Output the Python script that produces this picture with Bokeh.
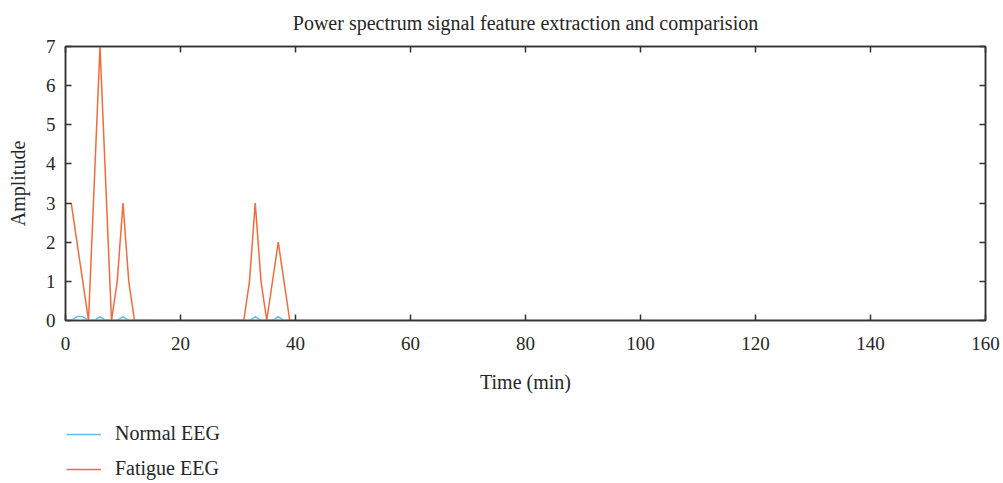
from bokeh.plotting import figure
from bokeh.layouts import column
from bokeh.models import (Range1d, LinearAxis, SingleIntervalTicker, Legend, LegendItem,
                          PrintfTickFormatter)
from bokeh.embed import file_html
from bokeh.resources import INLINE

# Data
normal_x = [1, 2, 3, 4, 5, 6, 7, 9, 10, 11, 32, 33, 34, 36, 37, 38, 39]
normal_y = [0, 0.1, 0.1, 0, 0, 0.1, 0, 0, 0.1, 0, 0, 0.1, 0, 0, 0.1, 0, 0]
fatigue_x = [1, 4, 6, 8, 9, 10, 11, 12, 31, 32, 33, 34, 35, 37, 39, 160]
fatigue_y = [3, 0, 7, 0, 1, 3, 1, 0, 0, 1, 3, 1, 0, 2, 0, 0]
series_names = ["Normal EEG", "Fatigue EEG"]
series_colors = ["#63C0E8", "#F26B38"]

x_ticks_interval = 20
y_ticks_interval = 1

FONT = "Liberation Serif"
TXT = "#262626"
AX = "#333333"

p = figure(width=1003, height=395, output_backend="svg", toolbar_location=None,
           x_range=Range1d(0, 160), y_range=Range1d(0, 7),
           min_border_left=65, min_border_right=18, min_border_top=45, min_border_bottom=75)

p.title.text = "Power spectrum signal feature extraction and comparision"
p.title.text_font = FONT
p.title.text_font_style = "normal"
p.title.text_font_size = "20px"
p.title.text_color = TXT
p.title.align = "center"
p.title.standoff = 18

p.grid.visible = False
p.outline_line_color = AX
p.outline_line_width = 1.5

lf = p.line(fatigue_x, fatigue_y, line_color=series_colors[1], line_width=1.5)
ln = p.line(normal_x, normal_y, line_color=series_colors[0], line_width=1.5)

for ax in (p.xaxis[0], p.yaxis[0]):
    ax.axis_line_color = AX
    ax.axis_line_width = 1.5
    ax.major_tick_in = 6
    ax.major_tick_out = 0
    ax.major_tick_line_color = AX
    ax.major_tick_line_width = 1.5
    ax.minor_tick_line_color = None
    ax.major_label_text_font = FONT
    ax.major_label_text_font_size = "19px"
    ax.major_label_text_color = TXT
    ax.axis_label_text_font = FONT
    ax.axis_label_text_font_size = "20px"
    ax.axis_label_text_font_style = "normal"
    ax.axis_label_text_color = TXT

p.xaxis[0].ticker = SingleIntervalTicker(interval=x_ticks_interval)
p.yaxis[0].ticker = SingleIntervalTicker(interval=y_ticks_interval)
p.xaxis[0].axis_label = "Time (min)"
p.yaxis[0].axis_label = "Amplitude"
p.xaxis[0].major_label_standoff = 12
p.yaxis[0].major_label_standoff = 6
p.xaxis[0].axis_label_standoff = 18
p.yaxis[0].axis_label_standoff = 14

for loc, interval in (("above", x_ticks_interval), ("right", y_ticks_interval)):
    a = LinearAxis(ticker=SingleIntervalTicker(interval=interval),
                   formatter=PrintfTickFormatter(format=""))
    a.axis_line_color = AX
    a.axis_line_width = 1.5
    a.major_tick_in = 6
    a.major_tick_out = 0
    a.major_tick_line_color = AX
    a.major_tick_line_width = 1.5
    a.minor_tick_line_color = None
    a.major_label_standoff = 0
    p.add_layout(a, loc)

# legend panel below the chart (its lines sit outside its visible range)
p2 = figure(width=1003, height=88, output_backend="svg", toolbar_location=None,
            x_range=Range1d(0, 160), y_range=Range1d(100, 101),
            min_border_left=0, min_border_right=0, min_border_top=0, min_border_bottom=0)
p2.axis.visible = False
p2.grid.visible = False
p2.outline_line_color = None
items = []
for name, color, xs, ys in zip(series_names, series_colors,
                               [normal_x, fatigue_x], [normal_y, fatigue_y]):
    r = p2.line(xs, ys, line_color=color, line_width=1.5)
    items.append(LegendItem(label=name, renderers=[r]))

legend = Legend(items=items, location=(1, 3), orientation="vertical",
                border_line_alpha=0, background_fill_alpha=0,
                padding=0, margin=0, spacing=12,
                glyph_width=35, glyph_height=20, label_height=20,
                label_standoff=14, label_text_font=FONT,
                label_text_font_size="20px", label_text_color=TXT)
p2.add_layout(legend, "center")

open("out.html", "w").write(file_html(column(p, p2), INLINE))
